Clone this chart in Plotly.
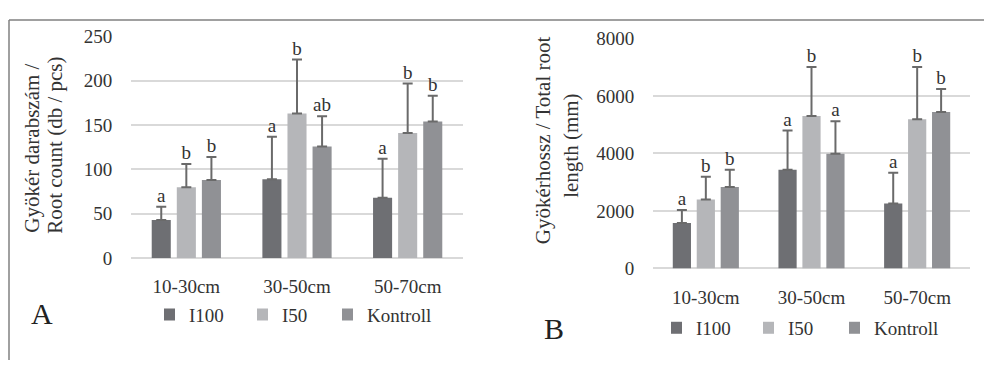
import numpy as np
import plotly.graph_objects as go

categories = ["10-30cm", "30-50cm", "50-70cm"]
series = ["I100", "I50", "Kontroll"]

A_I100 = [43, 89, 68]
A_I100_err = [15, 48, 44]
A_I50 = [80, 163, 141]
A_I50_err = [26, 61, 56]
A_K = [88, 126, 154]
A_K_err = [26, 34, 29]
A_letters_I100 = ["a", "a", "a"]
A_letters_I50 = ["b", "b", "b"]
A_letters_K = ["b", "ab", "b"]

B_I100 = [1580, 3430, 2260]
B_I100_err = [450, 1370, 1070]
B_I50 = [2400, 5300, 5190]
B_I50_err = [790, 1700, 1810]
B_K = [2830, 3990, 5440]
B_K_err = [600, 1130, 800]
B_letters_I100 = ["a", "a", "a"]
B_letters_I50 = ["b", "b", "b"]
B_letters_K = ["b", "a", "b"]

A_ticks = [0, 50, 100, 150, 200, 250]
B_ticks = [0, 2000, 4000, 6000, 8000]

colors = ["#6e6f73", "#b5b6b9", "#909195"]
FONT = "Liberation Serif, Times New Roman, serif"
TXT = "#333333"
W, H = 984, 371
BARGAP = 0.32
slot = (1 - BARGAP) / 3

# legend text start positions (px) for each panel / series
legend_px_A = [185, 278, 363]
legend_px_B = [692, 784, 870]
legend_y_A = 323
legend_y_B = 337

xpos = np.arange(len(categories))


def px_x(p):
    return p / W


def px_y(p):
    return 1 - p / H


fig = go.Figure()

panels = [
    ("x", "y", [A_I100, A_I50, A_K], [A_I100_err, A_I50_err, A_K_err],
     [A_letters_I100, A_letters_I50, A_letters_K], legend_px_A, legend_y_A, 0),
    ("x2", "y2", [B_I100, B_I50, B_K], [B_I100_err, B_I50_err, B_K_err],
     [B_letters_I100, B_letters_I50, B_letters_K], legend_px_B, legend_y_B, 3),
]

legend_layouts = {}
for xa, ya, vals, errs, letters, lpx, ly, loff in panels:
    for j, name in enumerate(series):
        lid = "legend" if loff + j == 0 else "legend%d" % (loff + j + 1)
        fig.add_trace(go.Bar(
            x=xpos, y=vals[j], name=name, marker_color=colors[j], marker_line_width=0,
            error_y=dict(type="data", array=errs[j], arrayminus=[0] * len(errs[j]),
                         symmetric=False, color="#6a6a6a", thickness=2, width=5),
            xaxis=xa, yaxis=ya, legend=lid,
        ))
        legend_layouts[lid] = dict(
            orientation="h", x=px_x(lpx[j] - 21), y=px_y(ly), xanchor="left", yanchor="middle",
            font=dict(family=FONT, size=19, color=TXT), bgcolor="rgba(0,0,0,0)",
            itemwidth=30, indentation=-15, borderwidth=0,
        )
    for j, name in enumerate(series):
        tops = [v + e for v, e in zip(vals[j], errs[j])]
        fig.add_trace(go.Scatter(
            x=xpos + (j - 1) * slot, y=tops, mode="text", text=letters[j],
            textposition="top center", textfont=dict(family=FONT, size=19, color=TXT),
            showlegend=False, hoverinfo="skip", xaxis=xa, yaxis=ya, cliponaxis=False,
        ))

axis_common = dict(tickfont=dict(family=FONT, size=19, color=TXT))

fig.update_layout(
    width=W, height=H, margin=dict(l=0, r=0, t=0, b=0),
    font=dict(family=FONT, color=TXT),
    paper_bgcolor="white", plot_bgcolor="white",
    barmode="group", bargap=BARGAP, bargroupgap=0.24,
    showlegend=True,
    xaxis=dict(domain=[px_x(131), px_x(463)], range=[-0.5, 2.5], tickvals=xpos,
               ticktext=categories, showgrid=False, zeroline=False, showline=False,
               ticks="outside", ticklen=11, tickcolor="rgba(0,0,0,0)", **axis_common),
    yaxis=dict(domain=[px_y(263), px_y(28)], range=[0, 250], tickvals=A_ticks,
               showgrid=True, gridcolor="#d9d9d9", gridwidth=1.5, zeroline=True,
               zerolinecolor="#d9d9d9", zerolinewidth=1.5, showline=False,
               ticks="outside", ticklen=14, tickcolor="rgba(0,0,0,0)", **axis_common),
    xaxis2=dict(domain=[px_x(653), px_x(970)], range=[-0.5, 2.5], tickvals=xpos,
                ticktext=categories, showgrid=False, zeroline=False, showline=False,
                ticks="outside", ticklen=12, tickcolor="rgba(0,0,0,0)", anchor="y2",
                **axis_common),
    yaxis2=dict(domain=[px_y(274), px_y(30)], range=[0, 8000], tickvals=B_ticks,
                showgrid=True, gridcolor="#d9d9d9", gridwidth=1.5, zeroline=True,
                zerolinecolor="#d9d9d9", zerolinewidth=1.5, showline=False,
                ticks="outside", ticklen=14, tickcolor="rgba(0,0,0,0)", anchor="x2",
                **axis_common),
    **legend_layouts,
)

annotations = [
    dict(text="Gyökér darabszám /", x=px_x(32), y=px_y(147)),
    dict(text="Root count (db / pcs)", x=px_x(55), y=px_y(144)),
    dict(text="Gyökérhossz / Total root", x=px_x(543), y=px_y(138)),
    dict(text="length (mm)", x=px_x(571), y=px_y(144)),
]
for a in annotations:
    fig.add_annotation(xref="paper", yref="paper", showarrow=False, textangle=-90,
                       xanchor="center", yanchor="middle",
                       font=dict(family=FONT, size=21, color=TXT), **a)

fig.add_annotation(text="A", xref="paper", yref="paper", x=px_x(42), y=px_y(322),
                   showarrow=False, font=dict(family=FONT, size=30, color="#222"),
                   xanchor="center", yanchor="middle")
fig.add_annotation(text="B", xref="paper", yref="paper", x=px_x(554), y=px_y(338),
                   showarrow=False, font=dict(family=FONT, size=30, color="#222"),
                   xanchor="center", yanchor="middle")

fig.add_shape(type="line", xref="paper", yref="paper", x0=px_x(9), x1=1, y0=px_y(10.5), y1=px_y(10.5),
              line=dict(color="#808080", width=1.5))
fig.add_shape(type="line", xref="paper", yref="paper", x0=px_x(9), x1=px_x(9), y0=px_y(10.5), y1=0,
              line=dict(color="#808080", width=1.5))

fig.write_html("out.html")
